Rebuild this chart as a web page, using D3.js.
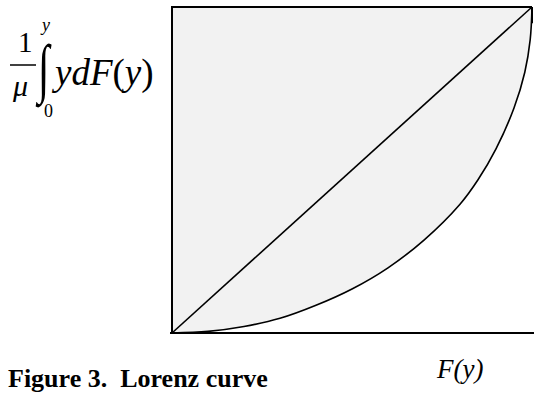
<!DOCTYPE html>
<html>
<head>
<meta charset="utf-8">
<script src="https://cdn.jsdelivr.net/npm/d3@7"></script>
<style>
  body { margin: 0; background: #fff; }
</style>
</head>
<body>
<script>
// Lorenz curve (share of population, share of income)
const popShare = [0, 0.1, 0.2, 0.3, 0.4, 0.5, 0.6, 0.7, 0.8, 0.85, 0.9, 0.95, 0.98, 0.995, 1];
const incomeShare = [0, 0.005, 0.02, 0.045, 0.085, 0.135, 0.2, 0.285, 0.395, 0.47, 0.565, 0.69, 0.8, 0.9, 1];
const equality = [0, 1];
const caption = "Figure 3.  Lorenz curve";

const width = 534, height = 393;
const serif = "'Liberation Serif', 'Times New Roman', Times, 'DejaVu Serif', serif";
const svg = d3.select("body").append("svg")
  .attr("width", width)
  .attr("height", height)
  .attr("font-family", serif);

const x = d3.scaleLinear().domain([0, 1]).range([172, 532]);
const y = d3.scaleLinear().domain([0, 1]).range([333, 7]);

const pts = popShare.map((p, i) => [p, incomeShare[i]]);

// grey square
svg.append("rect")
  .attr("x", x(0)).attr("y", y(1))
  .attr("width", x(1) - x(0)).attr("height", y(0) - y(1))
  .attr("fill", "#f2f2f2");

// white area under the curve
const area = d3.area()
  .x(d => x(d[0]))
  .y0(y(0))
  .y1(d => y(d[1]))
  .curve(d3.curveCatmullRom.alpha(0.5));
svg.append("path")
  .datum(pts)
  .attr("d", area)
  .attr("fill", "#fff");

// line of equality
svg.append("line")
  .attr("x1", x(equality[0])).attr("y1", y(equality[0]))
  .attr("x2", x(equality[1])).attr("y2", y(equality[1]))
  .attr("stroke", "#000").attr("stroke-width", 1.6);

// Lorenz curve
const line = d3.line()
  .x(d => x(d[0]))
  .y(d => y(d[1]))
  .curve(d3.curveCatmullRom.alpha(0.5));
svg.append("path")
  .datum(pts)
  .attr("d", line)
  .attr("fill", "none")
  .attr("stroke", "#000").attr("stroke-width", 1.6);

// border: left, top, right, bottom
svg.append("path")
  .attr("d", `M${x(0)},${y(0)}V${y(1)}H${x(1)}`)
  .attr("fill", "none").attr("stroke", "#000").attr("stroke-width", 2);
svg.append("line")
  .attr("x1", x(1)).attr("y1", y(1)).attr("x2", x(1)).attr("y2", y(0.95))
  .attr("stroke", "#000").attr("stroke-width", 2);
svg.append("line")
  .attr("x1", x(0) - 2).attr("y1", y(0)).attr("x2", width).attr("y2", y(0))
  .attr("stroke", "#000").attr("stroke-width", 2);

// y-axis formula
const f = svg.append("g");
f.append("text").attr("x", 18).attr("y", 52).attr("font-size", 29).text("1");
f.append("line").attr("x1", 10).attr("x2", 36).attr("y1", 65).attr("y2", 65)
  .attr("stroke", "#000").attr("stroke-width", 1.5);
f.append("text").attr("x", 13).attr("y", 96).attr("font-size", 30)
  .attr("font-style", "italic").text("μ");
f.append("text").attr("transform", "translate(38,90) scale(1,1.55)")
  .attr("font-size", 42).text("∫");
f.append("text").attr("x", 42).attr("y", 31).attr("font-size", 18)
  .attr("font-style", "italic").text("y");
f.append("text").attr("x", 44).attr("y", 117).attr("font-size", 18).text("0");
const t = f.append("text").attr("x", 55).attr("y", 85).attr("font-size", 37);
t.append("tspan").attr("font-style", "italic").text("ydF");
t.append("tspan").text("(");
t.append("tspan").attr("font-style", "italic").text("y");
t.append("tspan").text(")");

// x-axis label
svg.append("text").attr("x", 437).attr("y", 378).attr("font-size", 27)
  .attr("font-style", "italic").text("F(y)");

// caption
svg.append("text").attr("x", 8).attr("y", 387).attr("font-size", 26)
  .attr("font-weight", "bold").style("white-space", "pre").text(caption);
</script>
</body>
</html>
